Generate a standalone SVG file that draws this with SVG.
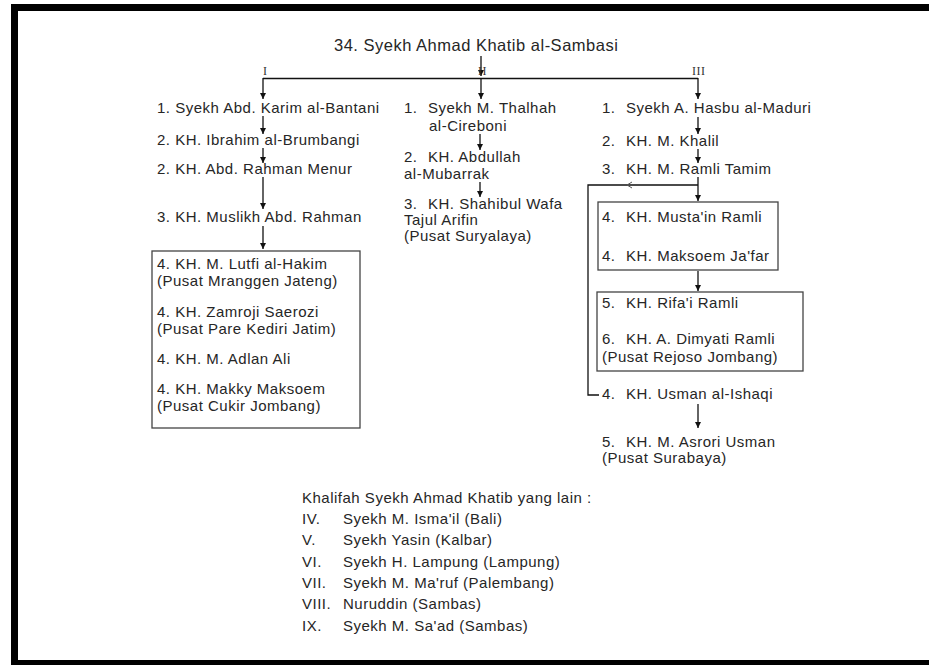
<svg xmlns="http://www.w3.org/2000/svg" width="929" height="665" viewBox="0 0 929 665">
<style>
text{font-family:"Liberation Sans",Arial,sans-serif;font-size:15px;letter-spacing:0.5px;fill:#262626}
.title{font-size:16.5px}
.rn{font-family:"Liberation Serif","Times New Roman",serif;font-size:12px;letter-spacing:0.5px;fill:#333}
.box{fill:none;stroke:#444;stroke-width:1.3}
.c{fill:none;stroke:#111;stroke-width:1.3}
.frame{fill:#000}
</style>
<defs>
<marker id="ah" viewBox="0 0 10 10" refX="10" refY="5" markerWidth="6" markerHeight="6" orient="auto" markerUnits="userSpaceOnUse">
<path d="M0,0 L10,5 L0,10 z" fill="#111"/>
</marker>
</defs>
<rect width="929" height="665" fill="#fff"/>
<g id="frame">
<rect class="frame" x="11" y="4" width="918" height="7"/>
<rect class="frame" x="11" y="4" width="7" height="661"/>
<rect class="frame" x="11" y="660" width="918" height="5"/>
</g>

<g id="connectors">
<line class="c" x1="481" y1="56" x2="481" y2="76" marker-end="url(#ah)"/>
<line class="c" x1="263" y1="78.5" x2="698" y2="78.5"/>
<line class="c" x1="263" y1="78" x2="263" y2="99" marker-end="url(#ah)"/>
<line class="c" x1="481" y1="78" x2="481" y2="99" marker-end="url(#ah)"/>
<line class="c" x1="698" y1="78" x2="698" y2="99" marker-end="url(#ah)"/>
<line class="c" x1="263" y1="116" x2="263" y2="134" marker-end="url(#ah)"/>
<line class="c" x1="263" y1="148" x2="263" y2="163" marker-end="url(#ah)"/>
<line class="c" x1="263" y1="177" x2="263" y2="209" marker-end="url(#ah)"/>
<line class="c" x1="263" y1="226" x2="263" y2="249" marker-end="url(#ah)"/>
<line class="c" x1="480" y1="134" x2="480" y2="150" marker-end="url(#ah)"/>
<line class="c" x1="480" y1="182" x2="480" y2="197" marker-end="url(#ah)"/>
<line class="c" x1="698" y1="117" x2="698" y2="134" marker-end="url(#ah)"/>
<line class="c" x1="698" y1="149" x2="698" y2="163" marker-end="url(#ah)"/>
<line class="c" x1="698" y1="177" x2="698" y2="201" marker-end="url(#ah)"/>
<line class="c" x1="698" y1="271" x2="698" y2="291" marker-end="url(#ah)"/>
<line class="c" x1="698" y1="404" x2="698" y2="428" marker-end="url(#ah)"/>
<polyline class="c" points="698,185 588,185 588,395 599,395"/>
<path d="M632,182 L627,185 L632,188" fill="none" stroke="#555" stroke-width="1"/>
</g>

<g id="root">
<text class="title" x="334" y="51">34.  Syekh Ahmad Khatib al-Sambasi</text>
</g>
<g id="labels">
<text class="rn" x="263" y="75">I</text>
<text class="rn" x="478" y="75">II</text>
<text class="rn" x="692" y="75">III</text>
</g>

<g id="col1-1"><text x="157" y="113">1. Syekh Abd. Karim al-Bantani</text></g>
<g id="col1-2"><text x="157" y="145">2. KH. Ibrahim al-Brumbangi</text></g>
<g id="col1-3"><text x="157" y="174">2. KH. Abd. Rahman Menur</text></g>
<g id="col1-4"><text x="157" y="222">3. KH. Muslikh Abd. Rahman</text></g>
<g id="col1-box">
<rect class="box" x="152" y="251" width="208" height="177"/>
<text x="157" y="269">4. KH. M. Lutfi al-Hakim</text>
<text x="157" y="286">(Pusat Mranggen Jateng)</text>
<text x="157" y="317">4. KH. Zamroji Saerozi</text>
<text x="157" y="334">(Pusat Pare Kediri Jatim)</text>
<text x="157" y="364">4. KH. M. Adlan Ali</text>
<text x="157" y="394">4. KH. Makky Maksoem</text>
<text x="157" y="411">(Pusat Cukir Jombang)</text>
</g>

<g id="col2-1">
<text x="404" y="113">1.</text><text x="428" y="113">Syekh M. Thalhah</text>
<text x="429" y="131">al-Cireboni</text>
</g>
<g id="col2-2">
<text x="404" y="162">2.</text><text x="428" y="162">KH. Abdullah</text>
<text x="404" y="179">al-Mubarrak</text>
</g>
<g id="col2-3">
<text x="404" y="209">3.</text><text x="428" y="209">KH. Shahibul Wafa</text>
<text x="404" y="225">Tajul Arifin</text>
<text x="404" y="241">(Pusat Suryalaya)</text>
</g>

<g id="col3-1"><text x="602" y="113">1.</text><text x="626" y="113">Syekh A. Hasbu al-Maduri</text></g>
<g id="col3-2"><text x="602" y="146">2.</text><text x="626" y="146">KH. M. Khalil</text></g>
<g id="col3-3"><text x="602" y="174">3.</text><text x="626" y="174">KH. M. Ramli Tamim</text></g>
<g id="col3-box1">
<rect class="box" x="598" y="202" width="180" height="68"/>
<text x="602" y="222">4.</text><text x="626" y="222">KH. Musta'in Ramli</text>
<text x="602" y="261">4.</text><text x="626" y="261">KH. Maksoem Ja'far</text>
</g>
<g id="col3-box2">
<rect class="box" x="597" y="292" width="206" height="79"/>
<text x="602" y="308">5.</text><text x="626" y="308">KH. Rifa'i Ramli</text>
<text x="602" y="344">6.</text><text x="626" y="344">KH. A. Dimyati Ramli</text>
<text x="602" y="362">(Pusat Rejoso Jombang)</text>
</g>
<g id="col3-usman"><text x="602" y="399">4.</text><text x="626" y="399">KH. Usman al-Ishaqi</text></g>
<g id="col3-asrori">
<text x="602" y="447">5.</text><text x="626" y="447">KH. M. Asrori Usman</text>
<text x="602" y="463">(Pusat Surabaya)</text>
</g>

<g id="others">
<text x="302" y="503">Khalifah Syekh Ahmad Khatib yang lain :</text>
<text x="302" y="524">IV.</text><text x="343" y="524">Syekh M. Isma'il (Bali)</text>
<text x="302" y="545">V.</text><text x="343" y="545">Syekh Yasin (Kalbar)</text>
<text x="302" y="567">VI.</text><text x="343" y="567">Syekh H. Lampung (Lampung)</text>
<text x="302" y="588">VII.</text><text x="343" y="588">Syekh M. Ma'ruf (Palembang)</text>
<text x="302" y="609">VIII.</text><text x="343" y="609">Nuruddin (Sambas)</text>
<text x="302" y="631">IX.</text><text x="343" y="631">Syekh M. Sa'ad (Sambas)</text>
</g>
</svg>
